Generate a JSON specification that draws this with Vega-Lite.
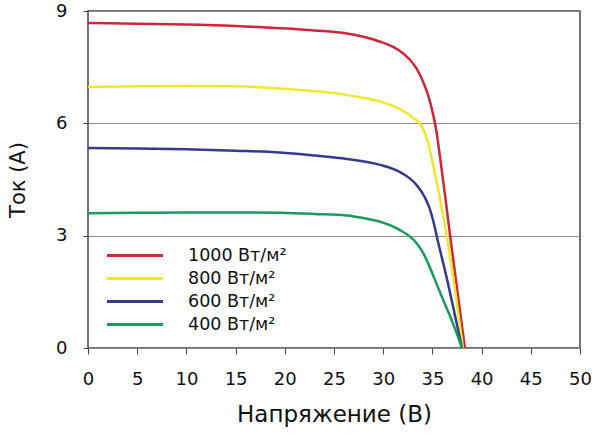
{
  "$schema": "https://vega.github.io/schema/vega-lite/v6.json",
  "width": 492,
  "height": 337,
  "autosize": "none",
  "padding": {"left": 88, "top": 11, "right": 15, "bottom": 91},
  "background": "white",
  "config": {
    "font": "DejaVu Sans",
    "view": {"stroke": "#444444", "strokeWidth": 1.5},
    "axis": {"labelColor": "#111111", "titleColor": "#111111", "titleFontWeight": "normal", "tickColor": "#444444", "domain": false, "labelOverlap": false, "labelFlush": false}
  },
  "data": {
    "values": [
      {"V": 0, "I": 8.68, "s": "1000 Вт/м²"},
      {"V": 5, "I": 8.66, "s": "1000 Вт/м²"},
      {"V": 10, "I": 8.64, "s": "1000 Вт/м²"},
      {"V": 15, "I": 8.60, "s": "1000 Вт/м²"},
      {"V": 19.5, "I": 8.54, "s": "1000 Вт/м²"},
      {"V": 23, "I": 8.48, "s": "1000 Вт/м²"},
      {"V": 26.3, "I": 8.40, "s": "1000 Вт/м²"},
      {"V": 28, "I": 8.31, "s": "1000 Вт/м²"},
      {"V": 29.7, "I": 8.18, "s": "1000 Вт/м²"},
      {"V": 31, "I": 8.04, "s": "1000 Вт/м²"},
      {"V": 31.7, "I": 7.93, "s": "1000 Вт/м²"},
      {"V": 32.7, "I": 7.70, "s": "1000 Вт/м²"},
      {"V": 33.4, "I": 7.46, "s": "1000 Вт/м²"},
      {"V": 34.1, "I": 7.08, "s": "1000 Вт/м²"},
      {"V": 34.6, "I": 6.72, "s": "1000 Вт/м²"},
      {"V": 35.0, "I": 6.32, "s": "1000 Вт/м²"},
      {"V": 35.4, "I": 5.8, "s": "1000 Вт/м²"},
      {"V": 35.8, "I": 5.05, "s": "1000 Вт/м²"},
      {"V": 36.3, "I": 4.05, "s": "1000 Вт/м²"},
      {"V": 36.8, "I": 3.0, "s": "1000 Вт/м²"},
      {"V": 37.5, "I": 1.6, "s": "1000 Вт/м²"},
      {"V": 38.3, "I": 0, "s": "1000 Вт/м²"},

      {"V": 0, "I": 6.97, "s": "800 Вт/м²"},
      {"V": 5, "I": 6.99, "s": "800 Вт/м²"},
      {"V": 10, "I": 7.0, "s": "800 Вт/м²"},
      {"V": 15, "I": 6.99, "s": "800 Вт/м²"},
      {"V": 19.5, "I": 6.93, "s": "800 Вт/м²"},
      {"V": 23, "I": 6.86, "s": "800 Вт/м²"},
      {"V": 26.3, "I": 6.76, "s": "800 Вт/м²"},
      {"V": 28, "I": 6.68, "s": "800 Вт/м²"},
      {"V": 29.7, "I": 6.58, "s": "800 Вт/м²"},
      {"V": 31.7, "I": 6.38, "s": "800 Вт/м²"},
      {"V": 32.7, "I": 6.22, "s": "800 Вт/м²"},
      {"V": 33.5, "I": 6.05, "s": "800 Вт/м²"},
      {"V": 34.0, "I": 5.88, "s": "800 Вт/м²"},
      {"V": 34.4, "I": 5.62, "s": "800 Вт/м²"},
      {"V": 34.8, "I": 5.22, "s": "800 Вт/м²"},
      {"V": 35.2, "I": 4.72, "s": "800 Вт/м²"},
      {"V": 35.7, "I": 4.08, "s": "800 Вт/м²"},
      {"V": 36.45, "I": 3.0, "s": "800 Вт/м²"},
      {"V": 37.3, "I": 1.55, "s": "800 Вт/м²"},
      {"V": 38.1, "I": 0, "s": "800 Вт/м²"},

      {"V": 0, "I": 5.34, "s": "600 Вт/м²"},
      {"V": 5, "I": 5.33, "s": "600 Вт/м²"},
      {"V": 10, "I": 5.31, "s": "600 Вт/м²"},
      {"V": 15, "I": 5.27, "s": "600 Вт/м²"},
      {"V": 19.5, "I": 5.22, "s": "600 Вт/м²"},
      {"V": 23, "I": 5.14, "s": "600 Вт/м²"},
      {"V": 26.3, "I": 5.05, "s": "600 Вт/м²"},
      {"V": 29.7, "I": 4.89, "s": "600 Вт/м²"},
      {"V": 31.7, "I": 4.70, "s": "600 Вт/м²"},
      {"V": 32.7, "I": 4.53, "s": "600 Вт/м²"},
      {"V": 33.4, "I": 4.35, "s": "600 Вт/м²"},
      {"V": 34.2, "I": 4.04, "s": "600 Вт/м²"},
      {"V": 34.7, "I": 3.74, "s": "600 Вт/м²"},
      {"V": 35.1, "I": 3.38, "s": "600 Вт/м²"},
      {"V": 35.5, "I": 2.92, "s": "600 Вт/м²"},
      {"V": 36.5, "I": 1.82, "s": "600 Вт/м²"},
      {"V": 38.0, "I": 0, "s": "600 Вт/м²"},

      {"V": 0, "I": 3.60, "s": "400 Вт/м²"},
      {"V": 5, "I": 3.61, "s": "400 Вт/м²"},
      {"V": 10, "I": 3.62, "s": "400 Вт/м²"},
      {"V": 15, "I": 3.62, "s": "400 Вт/м²"},
      {"V": 19.5, "I": 3.61, "s": "400 Вт/м²"},
      {"V": 23, "I": 3.58, "s": "400 Вт/м²"},
      {"V": 26.3, "I": 3.54, "s": "400 Вт/м²"},
      {"V": 28, "I": 3.47, "s": "400 Вт/м²"},
      {"V": 29.7, "I": 3.37, "s": "400 Вт/м²"},
      {"V": 31.7, "I": 3.15, "s": "400 Вт/м²"},
      {"V": 32.7, "I": 2.98, "s": "400 Вт/м²"},
      {"V": 33.4, "I": 2.80, "s": "400 Вт/м²"},
      {"V": 34.1, "I": 2.52, "s": "400 Вт/м²"},
      {"V": 34.6, "I": 2.24, "s": "400 Вт/м²"},
      {"V": 35.1, "I": 1.92, "s": "400 Вт/м²"},
      {"V": 36.1, "I": 1.28, "s": "400 Вт/м²"},
      {"V": 37.1, "I": 0.65, "s": "400 Вт/м²"},
      {"V": 38.0, "I": 0, "s": "400 Вт/м²"}
    ]
  },
  "mark": {"type": "line", "interpolate": "monotone", "strokeWidth": 2.5},
  "encoding": {
    "x": {
      "field": "V", "type": "quantitative",
      "scale": {"domain": [0, 50], "nice": false},
      "axis": {"values": [0, 5, 10, 15, 20, 25, 30, 35, 40, 45, 50], "grid": false, "tickSize": 6, "labelFontSize": 18, "labelPadding": 16, "title": "Напряжение (В)", "titleFontSize": 23, "titleY": 66, "titleBaseline": "middle", "titleX": 246, "titleAlign": "center"}
    },
    "y": {
      "field": "I", "type": "quantitative",
      "scale": {"domain": [0, 9], "nice": false},
      "axis": {"values": [0, 3, 6, 9], "grid": true, "gridColor": "#8a8a8a", "gridWidth": 1, "tickSize": 5, "labelFontSize": 18, "labelPadding": 16, "title": "Ток (А)", "titleFontSize": 21, "titleAngle": -90, "titleX": -70, "titleY": 168.5, "titleAlign": "center", "titleBaseline": "middle"}
    },
    "color": {
      "field": "s", "type": "nominal",
      "scale": {"domain": ["1000 Вт/м²", "800 Вт/м²", "600 Вт/м²", "400 Вт/м²"], "range": ["#d0263a", "#f0e82a", "#363a8c", "#1c9a5c"]},
      "legend": {"orient": "none", "legendX": 35.5, "legendY": 233, "title": null, "symbolType": "M-2.8,0H2.8", "symbolSize": 400, "symbolStrokeWidth": 3, "labelFontSize": 17.5, "labelOffset": 41.5, "rowPadding": 3, "padding": 0, "labelColor": "#111111"}
    },
    "order": {"field": "V", "type": "quantitative"}
  }
}
